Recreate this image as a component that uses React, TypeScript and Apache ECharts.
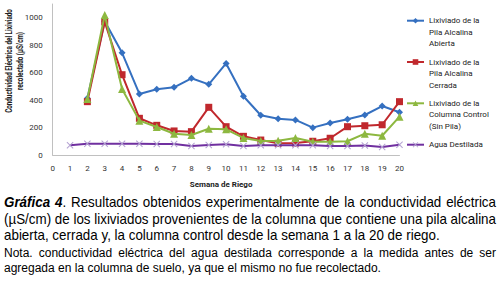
import React, { useEffect, useRef } from 'react';
import * as echarts from 'echarts';

const weeks = [1, 2, 3, 4, 5, 6, 7, 8, 9, 10, 11, 12, 13, 14, 15, 16, 17, 18, 19, 20];
const abierta = [null, 415, 975, 745, 446, 480, 494, 560, 516, 668, 429, 291, 266, 257, 201, 235, 262, 293, 358, 313];
const cerrada = [null, 390, 970, 586, 269, 218, 177, 172, 349, 208, 138, 111, 87, 89, 102, 124, 208, 215, 222, 390];
const control = [null, 409, 1020, 482, 252, 206, 157, 148, 193, 189, 126, 104, 106, 126, 99, 99, 102, 157, 142, 281];
const agua = [73, 84, 84, 84, 84, 82, 82, 68, 75, 80, 68, 73, 73, 73, 73, 68, 68, 71, 60, 77];

const seriesNames = [
  'Lixiviado de la\nPila Alcalina\nAbierta',
  'Lixiviado de la\nPila Alcalina\nCerrada',
  'Lixiviado de la\nColumna Control\n(Sin Pila)',
  'Agua Destilada',
];
const yTitle = 'Conductividad Eléctrica del Lixiviado\nrecolectado (µS/cm)';
const xTitle = 'Semana de Riego';
const captionBold = ['Gráfica', '4'];
const captionLines = [
  '. Resultados obtenidos experimentalmente de la conductividad eléctrica',
  '(µS/cm) de los lixiviados provenientes de la columna que contiene una pila alcalina',
  'abierta, cerrada y, la columna control desde la semana 1 a la 20 de riego.',
];
const noteLines = [
  'Nota. conductividad eléctrica del agua destilada corresponde a la medida antes de ser',
  'agregada en la columna de suelo, ya que el mismo no fue recolectado.',
];

const CHART_FONT = 'Roboto';
const CAP_FONT = 'Liberation Sans';

const X_PATH = 'path://M0,1 L1,0 L5,4 L9,0 L10,1 L6,5 L10,9 L9,10 L5,6 L1,10 L0,9 L4,5 Z';

let measureCtx: CanvasRenderingContext2D | null = null;
function measure(text: string, font: string): number {
  if (!measureCtx) {
    const c = document.createElement('canvas');
    measureCtx = c.getContext('2d');
  }
  if (!measureCtx) return text.length * 6;
  measureCtx.font = font;
  return measureCtx.measureText(text).width;
}

type Token = { text: string; w: number };

function placeLine(tokens: Token[], x0: number, y: number, target: number | null, space: number, k: number, size: number) {
  const total = tokens.reduce((a, t) => a + t.w, 0);
  const gap = target !== null && tokens.length > 1 ? (target - total) / (tokens.length - 1) : space;
  let x = x0;
  return tokens.map((t) => {
    const el = {
      type: 'text',
      x,
      y,
      scaleX: k,
      style: {
        text: t.text,
        fontFamily: CAP_FONT,
        fontSize: size,
        fill: '#000',
        verticalAlign: 'middle',
        rich: { b: { fontFamily: CAP_FONT, fontSize: size, fontWeight: 'bold', fontStyle: 'italic', fill: '#000' } },
      },
    };
    x += t.w + gap;
    return el;
  });
}

export default function App() {
  const ref = useRef<HTMLDivElement>(null);
  useEffect(() => {
    document.body.style.margin = '0';
    if (!ref.current) return;
    const chart = echarts.init(ref.current, undefined, { renderer: 'svg' });

    const toData = (vals: (number | null)[]) => weeks.map((w, i) => [w, vals[i]]);
    const colors = ['#3570C0', '#C0282D', '#8DB840', '#7030A0'];
    const symFill = ['#3570C0', '#C0282D', '#8DB840', '#B4A2D2'];
    const symbols = ['diamond', 'rect', 'triangle', X_PATH];
    const symSizes = [7, 7, 8, 7];
    const vals = [abierta, cerrada, control, agua];

    const series = vals.map((v, i) => ({
      name: seriesNames[i],
      type: 'line',
      data: toData(v),
      symbol: symbols[i],
      symbolSize: symSizes[i],
      showAllSymbol: true,
      connectNulls: false,
      lineStyle: { color: colors[i], width: 2 },
      itemStyle: { color: symFill[i] },
      z: 2 + i,
    }));

    // caption layout (justified)
    const targetW = 492;
    const capSize = 14;
    const capFont = `${capSize}px "${CAP_FONT}"`;
    const capBoldFont = `italic bold ${capSize}px "${CAP_FONT}"`;
    const kCap = Math.min(1, targetW / Math.max(1, measure(captionLines[1], capFont)));
    const noteSize = 12;
    const noteFont = `${noteSize}px "${CAP_FONT}"`;
    const kNote = Math.min(1, (targetW - 12) / Math.max(1, measure(noteLines[0], noteFont)));
    const toTokens = (line: string, font: string, k: number): Token[] =>
      line.split(' ').filter((s) => s.length > 0).map((s) => ({ text: s, w: measure(s, font) * k }));

    const line1Words = captionLines[0].split(' ');
    const line1Tokens: Token[] = [
      { text: `{b|${captionBold[0]}}`, w: measure(captionBold[0], capBoldFont) * kCap },
      { text: `{b|${captionBold[1]}}${line1Words[0]}`, w: (measure(captionBold[1], capBoldFont) + measure(line1Words[0], capFont)) * kCap },
      ...line1Words.slice(1).filter((s) => s.length > 0).map((s) => ({ text: s, w: measure(s, capFont) * kCap })),
    ];
    const capSpace = measure(' ', capFont) * kCap;
    const noteSpace = measure(' ', noteFont) * kNote;
    const captionEls = [
      ...placeLine(line1Tokens, 4, 202, targetW, capSpace, kCap, capSize),
      ...placeLine(toTokens(captionLines[1], capFont, kCap), 4, 219, targetW, capSpace, kCap, capSize),
      ...placeLine(toTokens(captionLines[2], capFont, kCap), 4, 235.5, null, capSpace, kCap, capSize),
      ...placeLine(toTokens(noteLines[0], noteFont, kNote), 4, 253, targetW, noteSpace, kNote, noteSize),
      ...placeLine(toTokens(noteLines[1], noteFont, kNote), 4, 268, null, noteSpace, kNote, noteSize),
    ];

    const yTitleFont = `bold 9px "${CHART_FONT}"`;
    const kY = 104 / Math.max(1, measure(yTitle.split('\n')[0], yTitleFont));

    const legendTops = [20.7, 62, 103.3, 144.7];
    const legends = seriesNames.map((n, i) => {
      const multi = n.indexOf('\n') >= 0;
      return {
        data: [n],
        orient: 'vertical',
        left: 406,
        top: multi ? legendTops[i] - 28.75 : legendTops[i] - 5.75,
        padding: 0,
        itemWidth: 17,
        itemHeight: 7,
        selectedMode: false,
        formatter: (name: string) => (multi ? '\n\n' + name : name),
        textStyle: {
          fontFamily: CHART_FONT,
          fontSize: 8,
          color: '#222',
          lineHeight: 11.5,
        },
      };
    });

    chart.setOption({
      animation: false,
      textStyle: { fontFamily: CHART_FONT },
      grid: { left: 52.7, right: 100.5, top: 4, bottom: 125.7, containLabel: false },
      xAxis: {
        type: 'value',
        min: 0,
        max: 20,
        interval: 1,
        name: xTitle,
        nameLocation: 'middle',
        nameGap: 25,
        nameTextStyle: { fontFamily: CHART_FONT, fontSize: 8, fontWeight: 'bold', color: '#222', padding: [0, 10, 0, 0] },
        axisLine: { lineStyle: { color: '#C0C0C0', width: 1 } },
        axisTick: { show: false },
        splitLine: { show: false },
        axisLabel: { fontFamily: CHART_FONT, fontSize: 8, color: '#333', margin: 9 },
      },
      yAxis: {
        type: 'value',
        min: 0,
        max: 1100,
        interval: 200,
        axisLine: { show: true, lineStyle: { color: '#C0C0C0', width: 1 } },
        axisTick: { show: false },
        splitLine: { show: false },
        axisLabel: {
          fontFamily: CHART_FONT,
          fontSize: 8,
          color: '#333',
          margin: 10,
          showMaxLabel: false,
          formatter: (v: number) => String(v),
        },
      },
      legend: legends,
      series,
      graphic: [
        {
          type: 'text',
          x: 14.5,
          y: 61,
          rotation: Math.PI / 2,
          scaleX: kY,
          style: {
            text: yTitle,
            fontFamily: CHART_FONT,
            fontSize: 9,
            fontWeight: 'bold',
            lineHeight: 11.5,
            fill: '#222',
            align: 'center',
            verticalAlign: 'middle',
          },
        },
        ...captionEls,
      ],
    });
    return () => chart.dispose();
  }, []);
  return <div ref={ref} style={{ width: 500, height: 281 }} />;
}
